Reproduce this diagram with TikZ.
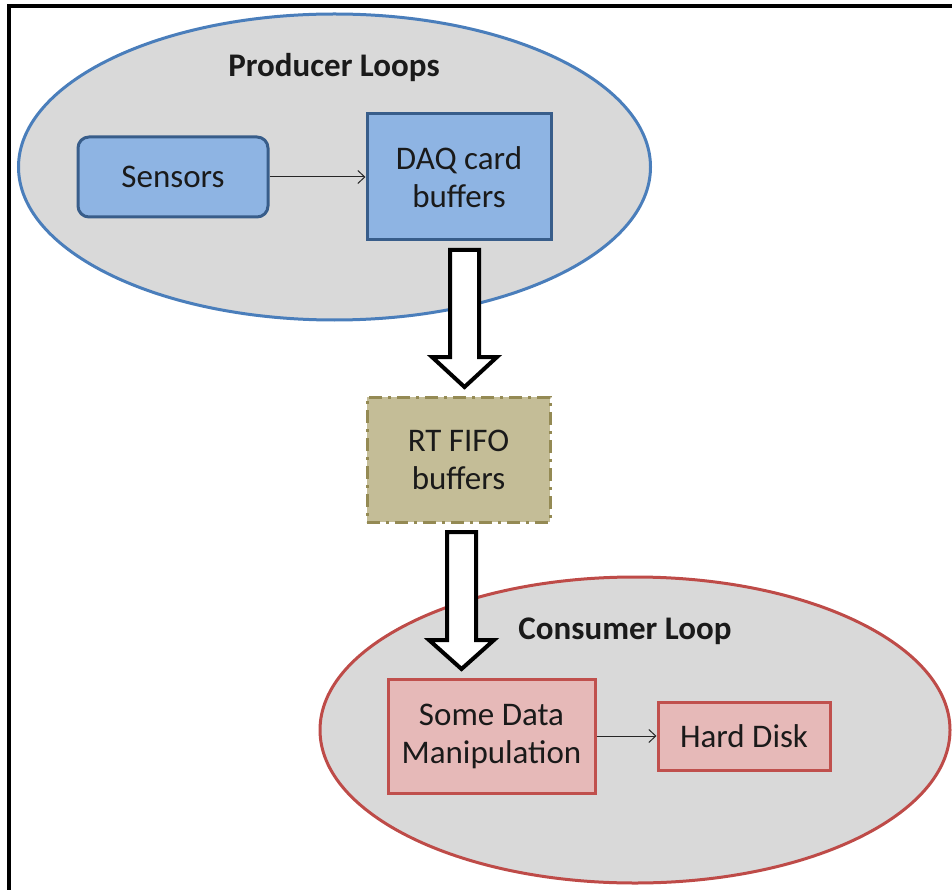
\documentclass[tikz,border=0pt]{standalone}
\usepackage{fontspec}
\setmainfont{Carlito}
\usetikzlibrary{arrows.meta}

\definecolor{loopgray}{RGB}{217,217,217}
\definecolor{prodedge}{RGB}{74,126,187}
\definecolor{bluefill}{RGB}{142,180,227}
\definecolor{blueedge}{RGB}{56,93,138}
\definecolor{consedge}{RGB}{190,75,72}
\definecolor{pinkfill}{RGB}{230,185,184}
\definecolor{pinkedge}{RGB}{192,80,77}
\definecolor{tanfill}{RGB}{196,189,151}
\definecolor{tanedge}{RGB}{148,138,84}
\definecolor{inktext}{RGB}{26,26,26}

\tikzset{
  loopshape/.style={fill=loopgray, line width=3pt},
  looptitle/.style={font=\fontsize{33}{38}\selectfont\bfseries, text=inktext},
  boxtext/.style={font=\fontsize{33}{38}\selectfont, text=inktext, align=center, inner sep=0pt},
  bluebox/.style={boxtext, draw=blueedge, fill=bluefill, line width=3pt},
  pinkbox/.style={boxtext, draw=pinkedge, fill=pinkfill, line width=3pt},
  fifobox/.style={boxtext, draw=tanedge, fill=tanfill, line width=3pt,
    dash pattern=on 13pt off 6pt on 3pt off 6pt},
  thinarrow/.style={draw=black!85, line width=1pt,
    -{Straight Barb[length=7pt,width=13pt,line width=1pt]}},
  blockarrow/.style={draw=black, fill=white, line width=4pt, line join=miter}
}

\begin{document}
\begin{tikzpicture}[x=1pt,y=-1pt]
  \useasboundingbox (0,0) rectangle (952,890);
  \fill[white] (0,0) rectangle (952,890);
  % frame (top and left edges only)
  \draw[line width=3.5pt] (952,6) -- (9,6) -- (9,890);

  % producer loop
  \draw[loopshape, draw=prodedge] (334.5,167) ellipse [x radius=316, y radius=153];
  \node[looptitle] (prodtitle) at (334,68) {Producer Loops};
  \node[bluebox, rounded corners=11pt, minimum width=190pt, minimum height=80pt]
    (sensors) at (173,177) {Sensors};
  \node[bluebox, minimum width=184pt, minimum height=126pt]
    (daq) at (459,177) {DAQ card\\buffers};
  \draw[thinarrow] (sensors.east) -- (daq.west);

  % shared buffer
  \node[fifobox, minimum width=183pt, minimum height=125pt]
    (fifo) at (458.5,459.5) {RT FIFO\\buffers};

  % consumer loop
  \draw[loopshape, draw=consedge] (635,730) ellipse [x radius=315, y radius=153];
  \node[looptitle] (constitle) at (625,631) {Consumer Loop};
  \node[pinkbox, minimum width=207pt, minimum height=114pt]
    (manip) at (491.5,736) {Some Data\\Manipulation};
  \node[pinkbox, minimum width=172pt, minimum height=68pt]
    (disk) at (744,736) {Hard Disk};
  \draw[thinarrow] (manip.east) -- (disk.west);

  % block arrows between the stages
  \draw[blockarrow] (450,250) -- (479,250) -- (479,357) -- (497,357)
    -- (464.5,387) -- (432,357) -- (450,357) -- cycle;
  \draw[blockarrow] (447,532) -- (476,532) -- (476,640) -- (494,640)
    -- (461.5,669) -- (429,640) -- (447,640) -- cycle;
\end{tikzpicture}
\end{document}
